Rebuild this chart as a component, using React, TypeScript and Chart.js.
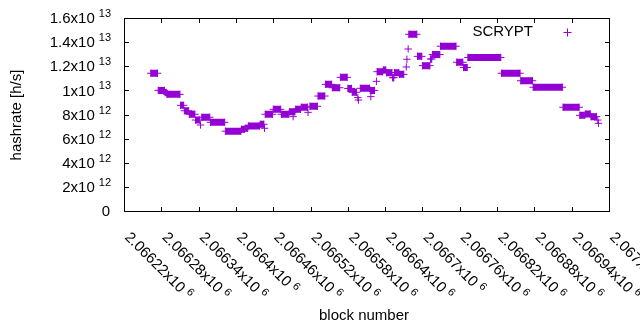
import React, { useEffect, useRef } from "react";
import { Chart, registerables } from "chart.js";

Chart.register(...registerables);

// Runs of consecutive blocks sharing the same hashrate (first block, last block, value)
const runStart = [
  2066263, 2066275, 2066286, 2066289, 2066311, 2066317, 2066325, 2066335, 2066343, 2066345,
  2066359, 2066383, 2066409, 2066415, 2066420, 2066439, 2066446, 2066447, 2066460, 2066473,
  2066486, 2066492, 2066496, 2066505, 2066516, 2066519, 2066532, 2066544, 2066555, 2066568,
  2066580, 2066587, 2066596, 2066597, 2066600, 2066616, 2066617, 2066626, 2066627, 2066637,
  2066642, 2066652, 2066655, 2066663, 2066674, 2066675, 2066677, 2066678, 2066692, 2066700,
  2066713, 2066716, 2066729, 2066755, 2066766, 2066773, 2066827, 2066858, 2066878, 2066926,
  2066953, 2066962, 2066971, 2066982, 2066983,
];
const runEnd = [
  2066274, 2066285, 2066288, 2066310, 2066316, 2066324, 2066334, 2066342, 2066343, 2066358,
  2066382, 2066408, 2066414, 2066419, 2066438, 2066445, 2066446, 2066459, 2066472, 2066485,
  2066495, 2066492, 2066504, 2066515, 2066516, 2066531, 2066543, 2066554, 2066567, 2066579,
  2066586, 2066594, 2066596, 2066597, 2066615, 2066623, 2066617, 2066626, 2066636, 2066641,
  2066651, 2066654, 2066662, 2066670, 2066674, 2066675, 2066677, 2066691, 2066699, 2066712,
  2066715, 2066728, 2066754, 2066765, 2066772, 2066826, 2066857, 2066877, 2066925, 2066952,
  2066961, 2066970, 2066980, 2066982, 2066983,
];
const runHashrate = [
  11.42e12, 10.0e12, 9.82e12, 9.67e12, 8.76e12, 8.31e12, 8.02e12, 7.54e12, 7.13e12, 7.77e12,
  7.35e12, 6.62e12, 6.77e12, 6.86e12, 7.05e12, 7.19e12, 6.86e12, 8.02e12, 8.43e12, 8.02e12,
  8.23e12, 7.82e12, 8.43e12, 8.6e12, 8.18e12, 8.68e12, 9.53e12, 10.5e12, 10.22e12, 11.08e12,
  10.16e12, 9.84e12, 9.4e12, 9.2e12, 10.17e12, 10.0e12, 9.48e12, 10.75e12, 11.55e12, 11.69e12,
  11.47e12, 11.05e12, 11.47e12, 11.33e12, 11.94e12, 12.58e12, 13.43e12, 14.65e12, 12.82e12, 12.05e12,
  12.6e12, 12.97e12, 13.66e12, 12.33e12, 11.9e12, 12.73e12, 11.42e12, 10.8e12, 10.26e12, 8.6e12,
  7.93e12, 8.04e12, 7.82e12, 7.54e12, 7.27e12,
];

const xTickValues = [
  2066220, 2066280, 2066340, 2066400, 2066460, 2066520, 2066580,
  2066640, 2066700, 2066760, 2066820, 2066880, 2066940, 2067000,
];
const xTickMantissa = [
  "2.06622", "2.06628", "2.06634", "2.0664", "2.06646", "2.06652", "2.06658",
  "2.06664", "2.0667", "2.06676", "2.06682", "2.06688", "2.06694", "2.067",
];
const xTickExponent = "6";

const yTickValues = [0, 2e12, 4e12, 6e12, 8e12, 1e13, 1.2e13, 1.4e13, 1.6e13];
const yTickMain = ["0", "2x10", "4x10", "6x10", "8x10", "1x10", "1.2x10", "1.4x10", "1.6x10"];
const yTickExp = ["", "12", "12", "12", "12", "13", "13", "13", "13"];

const seriesLabel = "SCRYPT";
const xTitle = "block number";
const yTitle = "hashrate [h/s]";

const X_MIN = 2066220;
const X_MAX = 2067000;
const Y_MIN = 0;
const Y_MAX = 1.6e13;

const PURPLE = "#9400d3";
const FONT_FAMILY = '"Liberation Sans", Arial, sans-serif';
const MAIN_FONT = `15px ${FONT_FAMILY}`;
const SUP_FONT = `11px ${FONT_FAMILY}`;

function buildPoints() {
  const pts: { x: number; y: number | null }[] = [];
  for (let i = 0; i < runStart.length; i++) {
    pts.push({ x: runStart[i], y: runHashrate[i] });
    if (runEnd[i] !== runStart[i]) pts.push({ x: runEnd[i], y: runHashrate[i] });
    pts.push({ x: runEnd[i], y: null });
  }
  return pts;
}

const decorPlugin = {
  id: "gnuplotDecor",
  beforeDatasetsDraw(chart: any) {
    const { ctx, chartArea } = chart;
    const xs = chart.scales.x;
    const ys = chart.scales.y;
    const { left, right, top, bottom } = chartArea;
    ctx.save();
    ctx.strokeStyle = "#000";
    ctx.lineWidth = 1;
    ctx.strokeRect(left + 0.5, top + 0.5, right - left, bottom - top);
    ctx.beginPath();
    const TL = 5;
    yTickValues.forEach((v) => {
      const py = Math.round(ys.getPixelForValue(v)) + 0.5;
      ctx.moveTo(left, py);
      ctx.lineTo(left + TL, py);
      ctx.moveTo(right + 1, py);
      ctx.lineTo(right + 1 - TL, py);
    });
    xTickValues.forEach((v) => {
      const px = Math.round(xs.getPixelForValue(v)) + 0.5;
      ctx.moveTo(px, bottom + 1);
      ctx.lineTo(px, bottom + 1 - TL);
      ctx.moveTo(px, top);
      ctx.lineTo(px, top + TL);
    });
    ctx.stroke();
    ctx.restore();
  },
  afterDraw(chart: any) {
    const { ctx, chartArea } = chart;
    const xs = chart.scales.x;
    const ys = chart.scales.y;
    ctx.save();
    ctx.fillStyle = "#000";

    // Y tick labels
    const yRight = 111;
    yTickValues.forEach((v, i) => {
      const py = ys.getPixelForValue(v);
      ctx.textBaseline = "middle";
      ctx.textAlign = "right";
      if (yTickExp[i]) {
        ctx.font = SUP_FONT;
        const sw = ctx.measureText(yTickExp[i]).width;
        ctx.fillText(yTickExp[i], yRight, py - 4);
        ctx.font = MAIN_FONT;
        ctx.fillText(yTickMain[i], yRight - sw - 4, py + 1);
      } else {
        ctx.font = MAIN_FONT;
        ctx.fillText(yTickMain[i], yRight - 1, py + 1);
      }
    });

    // X tick labels rotated
    xTickValues.forEach((v, i) => {
      const px = xs.getPixelForValue(v);
      ctx.save();
      ctx.translate(px + 3, chartArea.bottom + 24);
      ctx.rotate(Math.PI / 4);
      ctx.textAlign = "left";
      ctx.textBaseline = "middle";
      ctx.font = MAIN_FONT;
      const main = xTickMantissa[i] + "x10";
      ctx.fillText(main, 0, 0);
      const w = ctx.measureText(main).width;
      ctx.font = SUP_FONT;
      ctx.fillText(xTickExponent, w + 4, -4);
      ctx.restore();
    });

    // Axis titles
    ctx.font = MAIN_FONT;
    ctx.textAlign = "center";
    ctx.textBaseline = "middle";
    ctx.fillText(xTitle, 364, 316);
    ctx.save();
    ctx.translate(17, 115);
    ctx.rotate(-Math.PI / 2);
    ctx.fillText(yTitle, 0, 0);
    ctx.restore();

    // Legend
    ctx.textAlign = "right";
    ctx.fillText(seriesLabel, 533, 32);
    ctx.strokeStyle = PURPLE;
    ctx.lineWidth = 1;
    ctx.beginPath();
    ctx.moveTo(563.5, 32.5);
    ctx.lineTo(571.5, 32.5);
    ctx.moveTo(567.5, 28.5);
    ctx.lineTo(567.5, 36.5);
    ctx.stroke();

    ctx.restore();
  },
};

export default function App() {
  const canvasRef = useRef<HTMLCanvasElement | null>(null);

  useEffect(() => {
    const canvas = canvasRef.current;
    if (!canvas) return;
    const chart = new Chart(canvas, {
      type: "scatter",
      data: {
        datasets: [
          {
            label: seriesLabel,
            data: buildPoints() as any,
            showLine: true,
            spanGaps: false,
            borderColor: PURPLE,
            backgroundColor: PURPLE,
            borderWidth: 7,
            borderCapStyle: "butt",
            pointStyle: "cross",
            pointRadius: 3.7,
            pointHoverRadius: 3.7,
            pointBorderWidth: 1,
            pointBorderColor: PURPLE,
          } as any,
        ],
      },
      options: {
        responsive: false,
        animation: false,
        events: [],
        devicePixelRatio: 1,
        layout: { padding: { left: 124, right: 31, top: 18, bottom: 119 } },
        plugins: {
          legend: { display: false },
          tooltip: { enabled: false },
        },
        scales: {
          x: { type: "linear", min: X_MIN, max: X_MAX, display: false },
          y: { type: "linear", min: Y_MIN, max: Y_MAX, display: false },
        },
      },
      plugins: [decorPlugin],
    });
    return () => chart.destroy();
  }, []);

  return (
    <div style={{ position: "fixed", left: 0, top: 0, width: 640, height: 330, background: "#fff" }}>
      <canvas ref={canvasRef} width={640} height={330} style={{ display: "block" }} />
    </div>
  );
}
